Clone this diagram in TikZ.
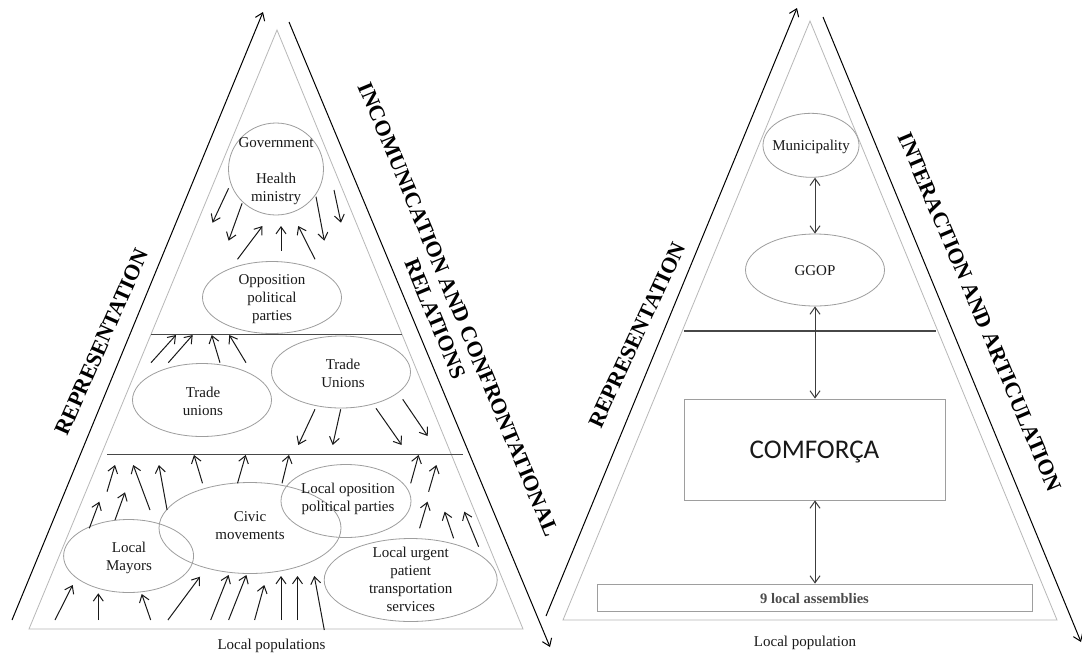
\documentclass[tikz,border=0pt]{standalone}
\usepackage{fontspec}
\setmainfont{Liberation Serif}
\newfontfamily\calibrifont{Carlito}
\usetikzlibrary{shapes.geometric,arrows.meta}
\definecolor{ovalgray}{gray}{0.62}
\definecolor{trigray}{gray}{0.72}
\definecolor{ink}{gray}{0.1}
\tikzset{
  oval/.style={ellipse, draw=ovalgray, line width=0.8pt, inner sep=0pt},
  txt/.style={font=\fontsize{15}{18}\selectfont, align=center, inner sep=0pt, text=ink},
  side/.style={font=\fontsize{22}{25}\selectfont\bfseries, align=center, inner sep=0pt},
  arr/.style={draw=ink, line width=1pt, -{Straight Barb[length=7pt,width=10pt]}},
  darr/.style={draw=ink!85, line width=1pt, {Straight Barb[length=7pt,width=10pt]}-{Straight Barb[length=7pt,width=10pt]}},
  tri/.style={draw=trigray, line width=0.8pt},
  hline/.style={draw=black!72, line width=1.3pt},
  outer/.style={draw=black, line width=1pt, -{Straight Barb[length=7pt,width=10pt]}},
  boxed/.style={rectangle, draw=ovalgray, line width=0.8pt, inner sep=0pt},
}
\begin{document}
\begin{tikzpicture}[x=1pt,y=-1pt]
\useasboundingbox (0,0) rectangle (1082,657);
\fill[white] (0,0) rectangle (1082,657);

% ===================== LEFT DIAGRAM =====================
\coordinate (LA) at (277,30);
\coordinate (LB) at (29,629);
\coordinate (LC) at (523,629);
\draw[tri] (LA) -- (LB) -- (LC) -- cycle;

\coordinate (lo1s) at (12,620);  \coordinate (lo1e) at (263,12);
\coordinate (lo2s) at (289,22);  \coordinate (lo2e) at (550,647);
\draw[outer] (lo1s) -- (lo1e);
\draw[outer] (lo2s) -- (lo2e);

\coordinate (lh1a) at (151,334.7); \coordinate (lh1b) at (402,334.7);
\coordinate (lh2a) at (107,454.3); \coordinate (lh2b) at (463,454.3);
\draw[hline] (lh1a) -- (lh1b);
\draw[hline] (lh2a) -- (lh2b);

% ellipses
\node[oval, minimum width=95pt, minimum height=92pt] (gov) at (276,169) {};
\node[txt] (govt) at (276,171) {Government\\[18pt]Health\\ministry};
\node[oval, minimum width=139pt, minimum height=72pt] (opp) at (272,297.5) {};
\node[txt] (oppt) at (272,299) {Opposition\\political\\parties};
\node[oval, minimum width=139pt, minimum height=73pt] (tu1) at (202,400) {};
\node[txt] (tu1t) at (203,401) {Trade\\unions};
\node[oval, minimum width=139pt, minimum height=72pt] (tu2) at (341,372) {};
\node[txt] (tu2t) at (343,373) {Trade\\Unions};
\node[oval, minimum width=182pt, minimum height=91pt] (civ) at (250,528) {};
\node[txt] (civt) at (250,526) {Civic\\movements};
\node[oval, minimum width=130pt, minimum height=73pt] (lop) at (346,501) {};
\node[txt] (lopt) at (348,499) {Local oposition\\political parties};
\node[oval, minimum width=130pt, minimum height=73pt] (may) at (128.6,556) {};
\node[txt] (mayt) at (129,557.5) {Local\\Mayors};
\node[oval, minimum width=173pt, minimum height=83pt] (urg) at (410.7,580) {};
\node[txt] (urgt) at (410.7,579.5) {Local urgent\\patient\\transportation\\services};

\node[txt] (lpop) at (271.5,646) {Local populations};

% small arrows
\foreach \a/\b/\c/\d in {
 228.6/188.3/212.5/222.7, 242.1/203.3/228.6/240.7, 316/196.7/324.3/240.7, 334/190/341/222.7,
 237.5/259.3/262.5/226, 281/250.7/281/226, 315/259.3/298.2/226,
 151/362.7/176/335, 168.3/362.7/192.7/335, 220/362.7/211.7/335, 246/362.7/229.3/335,
 315/409.3/298.3/445, 340.7/409.3/332.7/445, 376/408.3/401.7/445, 402.7/399.3/427.7/436,
 107/491.7/115/465, 150/510/133.2/465, 167.1/510/158.9/465, 202.5/483.3/194/455,
 237.5/483.3/245.7/455, 282/483.3/289/455, 410.7/483.3/418.6/455, 428.6/491.7/436.4/465,
 89.3/528.3/99.3/501.7, 115/520/125/492.3, 419.6/528.3/427.5/501.7,
 453.6/538.3/444.6/511.7, 478.6/546.7/464.3/511.7,
 55/620/72.7/585, 98.3/620/98.3/593.3, 150.7/620/141.7/594, 167.9/620/200/576.7,
 210.7/620/228.6/575, 228.6/620/246.4/575, 254.6/620/264.3/585, 281/620/281/576,
 297.5/620/297.5/576, 324.3/630/314.3/576}
 \draw[arr] (\a,\b) -- (\c,\d);

% side labels
\node[side, rotate=66] (lrep) at (102,342) {REPRESENTATION};
\node[side, rotate=-67.4] (linc) at (447,314) {INCOMUNICATION AND CONFRONTATIONAL\\RELATIONS};

% ===================== RIGHT DIAGRAM =====================
\coordinate (RA) at (810,21);
\coordinate (RB) at (563,620);
\coordinate (RC) at (1057,620);
\draw[tri] (RA) -- (RB) -- (RC) -- cycle;

\coordinate (ro1s) at (546,616);  \coordinate (ro1e) at (797,8);
\coordinate (ro2s) at (823,17);   \coordinate (ro2e) at (1081,642);
\draw[outer] (ro1s) -- (ro1e);
\draw[outer] (ro2s) -- (ro2e);

\coordinate (rha) at (684,331); \coordinate (rhb) at (936,331);
\draw[hline] (rha) -- (rhb);

\node[oval, minimum width=96pt, minimum height=64pt] (muni) at (811,145.3) {};
\node[txt] (munit) at (811,147) {Municipality};
\node[oval, minimum width=139pt, minimum height=72pt] (ggop) at (815,270) {};
\node[txt] (ggopt) at (815,270.7) {GGOP};
\node[boxed, minimum width=261pt, minimum height=101pt] (comf) at (814.5,449.5) {};
\node[font=\calibrifont\fontsize{27}{30}\selectfont, inner sep=0pt, text=ink] (comft) at (814.5,452) {COMFORÇA};
\node[boxed, minimum width=435pt, minimum height=27pt] (asm) at (814.5,597.5) {};
\node[txt, font=\fontsize{14.5}{17}\selectfont\bfseries, text=black!70] (asmt) at (814.5,598.5) {9 local assemblies};
\node[txt] (rpop) at (805,642.7) {Local population};

\draw[darr] (muni.south -| ggop.north) -- (ggop.north);
\draw[darr] (ggop.south) -- (comf.north -| ggop.south);
\draw[darr] (comf.south -| ggop.south) -- (asm.north -| ggop.south);

\node[side, rotate=65] (rrep) at (637,335) {REPRESENTATION};
\node[side, rotate=-67] (rint) at (980,312) {INTERACTION AND ARTICULATION};
\end{tikzpicture}
\end{document}
